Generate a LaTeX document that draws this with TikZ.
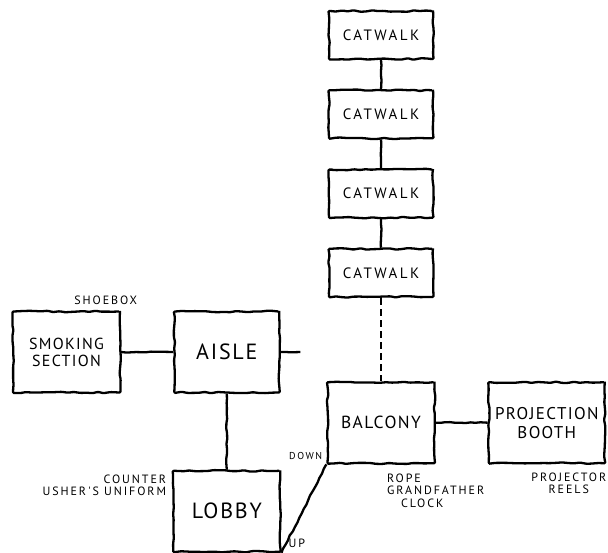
\documentclass[tikz,border=0pt]{standalone}
\usepackage{fontspec}
\setmainfont{PT Sans}[LetterSpace=8]
\newfontfamily\notefont{PT Sans}[LetterSpace=16]
\usetikzlibrary{positioning, decorations.pathmorphing}
\tikzset{
  every picture/.style={line width=2.3pt},
  room/.style={draw, rectangle, align=center, inner sep=0pt,
    decorate, decoration={random steps, segment length=6pt, amplitude=0.8pt},
    rounded corners=1pt},
  catwalk/.style={room, minimum width=104pt, minimum height=48pt,
    font=\notefont\fontsize{15}{17}\selectfont},
  hall/.style={room, minimum width=106pt, minimum height=81pt},
  wobble/.style={decorate, decoration={random steps, segment length=5pt, amplitude=0.6pt}},
  note/.style={font=\notefont\fontsize{12}{12.5}\selectfont, inner sep=0pt},
}
\begin{document}
\begin{tikzpicture}[x=1pt, y=1pt, node distance=29pt]
  \useasboundingbox (0,0) rectangle (608,553);
  \pgfmathsetseed{42}

  % catwalks
  \node[catwalk] (cw1) at (381,518) {CATWALK};
  \node[catwalk, below=of cw1] (cw2) {CATWALK};
  \node[catwalk, below=of cw2] (cw3) {CATWALK};
  \node[catwalk, below=of cw3] (cw4) {CATWALK};

  % rooms
  \node[hall, below=83pt of cw4, minimum width=107pt, font=\fontsize{17.5}{19}\selectfont] (balcony) {BALCONY};
  \node[hall, right=52pt of balcony, minimum width=116pt, font=\fontsize{17}{19}\selectfont] (booth) {PROJECTION\\BOOTH};
  \node[hall, minimum width=107pt, font=\fontsize{16}{17}\selectfont] (smoking) at (66.5,201) {SMOKING\\SECTION};
  \node[hall, right=52pt of smoking, minimum width=105pt, font=\fontsize{22}{24}\selectfont] (aisle) {AISLE};
  \node[hall, below=76pt of aisle, minimum width=107pt, font=\fontsize{22}{24}\selectfont] (lobby) {LOBBY};
  \coordinate[right=20pt of aisle.east] (aislestub);

  % connectors
  \draw[wobble] (cw1) -- (cw2);
  \draw[wobble] (cw2) -- (cw3);
  \draw[wobble] (cw3) -- (cw4);
  \draw[dash pattern=on 7pt off 4pt] (cw4) -- (balcony);
  \draw[wobble] (smoking) -- (aisle);
  \draw[wobble] (aisle.east) -- (aislestub);
  \draw[wobble] (aisle) -- (lobby);
  \draw[wobble] (balcony) -- (booth);
  \draw[wobble] (balcony.south west) -- (lobby.south east);

  % items
  \node[note, anchor=south east] (shoebox) at ([xshift=17pt, yshift=5pt]smoking.north east) {SHOEBOX};
  \node[note, anchor=north east, align=right] (counter) at ([xshift=-5pt, yshift=-4pt]lobby.north west) {COUNTER\\USHER'S UNIFORM};
  \node[note, anchor=south east, font=\notefont\fontsize{10}{11}\selectfont] (down) at ([xshift=-3pt, yshift=4pt]balcony.south west) {DOWN};
  \node[note, anchor=south west] (up) at ([xshift=6pt, yshift=4pt]lobby.south east) {UP};
  \node[note, anchor=north west, align=left] (rope) at ([xshift=5pt, yshift=-8pt]balcony.south) {ROPE\\GRANDFATHER\\\hspace*{14pt}CLOCK};
  \node[note, anchor=north, align=center] (reels) at ([xshift=22pt, yshift=-7pt]booth.south) {PROJECTOR\\REELS};
\end{tikzpicture}
\end{document}
